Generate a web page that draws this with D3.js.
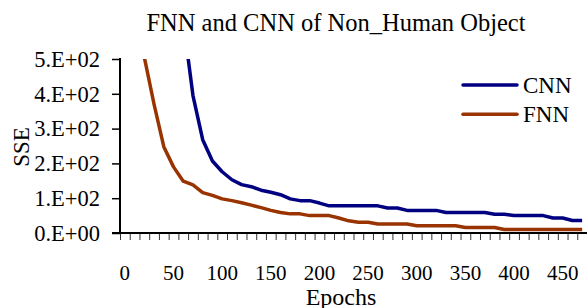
<!DOCTYPE html>
<html>
<head>
  <meta charset="UTF-8">
  <style>
    body { margin: 0; background: #fff; }
    svg text { font-family: "Liberation Serif", "Times New Roman", serif; fill: #000; }
  </style>
</head>
<body>
    <svg id="chart" width="587" height="308"></svg>
    <script src="https://d3js.org/d3.v7.min.js"></script>

    <script>
        // epochs on the category axis (0..470 step 10)
        var epochs = [0,10,20,30,40,50,60,70,80,90,100,110,120,130,140,150,160,170,180,190,
                      200,210,220,230,240,250,260,270,280,290,300,310,320,330,340,350,360,370,
                      380,390,400,410,420,430,440,450,460,470];
        var cnnSSE = [2000,1700,1400,1100,900,750,610,395,268,207,176,153,139,133,123,117,110,98,93,93,
                      86,78,78,78,78,78,78,72,72,65,65,65,65,59,59,59,59,59,
                      54,54,50,50,50,50,43,43,36,36];
        var fnnSSE = [900,680,505,370,248,190,149,138,116,108,98,93,87,80,73,65,59,55,55,50,
                      50,50,43,35,31,31,26,26,26,26,21,21,21,21,21,16,16,16,
                      16,10,10,10,10,10,10,10,10,10];
        var yTicks = [0,100,200,300,400,500];
        var yTickLabels = ["0.E+00","1.E+02","2.E+02","3.E+02","4.E+02","5.E+02"];
        var xLabelEvery = 5;
        var seriesNames = ["CNN","FNN"];
        var seriesColors = ["#000080","#993300"];

        var svg = d3.select("#chart");
        var plotLeft = 120, plotRight = 587, plotTop = 59, plotBottom = 233;

        var x = d3.scaleBand().domain(epochs).range([plotLeft, plotRight]).padding(0);
        var xEdge = d3.scaleLinear().domain([0, epochs.length]).range([plotLeft, plotRight]);
        var y = d3.scaleLinear().domain([0, 500]).range([plotBottom, plotTop]);

        // title
        svg.append("text")
            .attr("x", 336).attr("y", 31)
            .attr("text-anchor", "middle")
            .style("font-size", "24.5px")
            .text("FNN and CNN of Non_Human Object");

        // clip so lines stop at the top of plot area
        svg.append("clipPath").attr("id", "plotclip")
            .append("rect")
            .attr("x", plotLeft).attr("y", plotTop)
            .attr("width", plotRight - plotLeft).attr("height", plotBottom - plotTop);

        var line = d3.line()
            .x(function(d, i){ return x(epochs[i]) + x.bandwidth() / 2; })
            .y(function(d){ return y(d); });

        var plot = svg.append("g").attr("clip-path", "url(#plotclip)");
        [cnnSSE, fnnSSE].forEach(function(s, i){
            plot.append("path")
                .datum(s)
                .attr("fill", "none")
                .attr("stroke", seriesColors[i])
                .attr("stroke-width", 3.5)
                .attr("stroke-linejoin", "round")
                .attr("d", line);
        });

        // y axis
        var yAxis = d3.axisLeft(y)
            .tickValues(yTicks)
            .tickSize(8)
            .tickPadding(12)
            .tickFormat(function(d, i){ return yTickLabels[i]; });
        var gy = svg.append("g").attr("transform", "translate(" + plotLeft + ",0)").call(yAxis);
        gy.select(".domain").remove();
        gy.selectAll(".tick line").attr("stroke", "#000").attr("stroke-width", 1.5);
        gy.selectAll("text").style("font-size", "22.5px").attr("fill", "#000");
        svg.append("line")
            .attr("x1", plotLeft).attr("x2", plotLeft).attr("y1", plotTop - 1).attr("y2", plotBottom + 1)
            .attr("stroke", "#000").attr("stroke-width", 2);

        // x axis: tick marks on category edges, labels on category centres
        var xTickAxis = d3.axisBottom(xEdge)
            .tickValues(d3.range(epochs.length + 1))
            .tickSize(7)
            .tickFormat("");
        var gx = svg.append("g").attr("transform", "translate(0," + plotBottom + ")").call(xTickAxis);
        gx.select(".domain").remove();
        gx.selectAll(".tick line").attr("stroke", "#333").attr("stroke-width", 1);

        var xLabelAxis = d3.axisBottom(x)
            .tickValues(epochs.filter(function(d, i){ return i % xLabelEvery === 0; }))
            .tickSize(0)
            .tickPadding(32.5);
        var gxl = svg.append("g").attr("transform", "translate(0," + plotBottom + ")").call(xLabelAxis);
        gxl.select(".domain").remove();
        gxl.selectAll("text").style("font-size", "21px").attr("fill", "#000");

        svg.append("line")
            .attr("x1", plotLeft - 8).attr("x2", plotRight).attr("y1", plotBottom).attr("y2", plotBottom)
            .attr("stroke", "#000").attr("stroke-width", 2);

        // axis titles
        svg.append("text")
            .attr("x", 341).attr("y", 305)
            .attr("text-anchor", "middle")
            .style("font-size", "24px")
            .text("Epochs");
        svg.append("text")
            .attr("transform", "translate(28.5,147) rotate(-90)")
            .attr("text-anchor", "middle")
            .style("font-size", "23px")
            .text("SSE");

        // legend
        var legend = svg.append("g").attr("transform", "translate(463,85)");
        seriesNames.forEach(function(name, i){
            var row = legend.append("g").attr("transform", "translate(0," + (i * 29.3) + ")");
            row.append("line")
                .attr("x1", 0).attr("x2", 54).attr("y1", 0).attr("y2", 0)
                .attr("stroke", seriesColors[i]).attr("stroke-width", 3.5)
                .attr("stroke-linecap", "round");
            row.append("text")
                .attr("x", 60).attr("y", 7.5)
                .style("font-size", "23px")
                .text(name);
        });
    </script>

</body>
</html>
